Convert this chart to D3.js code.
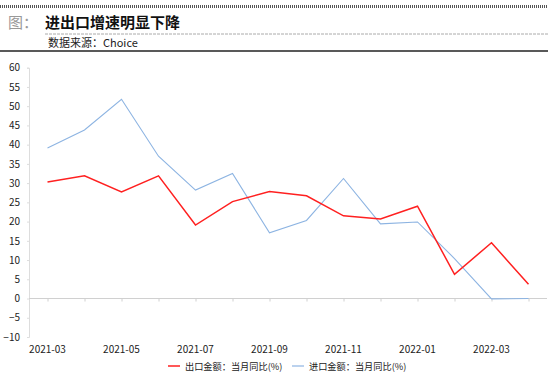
<!DOCTYPE html>
<html>
<head>
<meta charset="utf-8">
<script src="https://cdn.jsdelivr.net/npm/d3@7"></script>
<style>
  body { margin:0; background:#fff; }
  text { font-family: "Noto Sans CJK SC", "Open Sans", sans-serif; }
</style>
</head>
<body>
<div id="chart"></div>
<script>
// data
const months = ["2021-03","2021-04","2021-05","2021-06","2021-07","2021-08","2021-09",
  "2021-10","2021-11","2021-12","2022-01","2022-02","2022-03","2022-04"];
const exportYoY = [30.3, 31.9, 27.7, 31.9, 19.1, 25.2, 27.8, 26.7, 21.5, 20.7, 24.0, 6.3, 14.5, 3.7];
const importYoY = [39.1, 43.8, 51.8, 37.0, 28.2, 32.5, 17.1, 20.3, 31.2, 19.4, 19.9, 10.4, -0.1, 0.0];
const yTicks = [-10,-5,0,5,10,15,20,25,30,35,40,45,50,55,60];
const seriesNames = ["出口金额：当月同比(%)", "进口金额：当月同比(%)"];
const colors = ["#ff2020", "#8db4e2"];

const W = 550, H = 379;
const svg = d3.select('#chart').append('svg').attr('width', W).attr('height', H);

// header
svg.append('line').attr('x1',0).attr('x2',548).attr('y1',6.5).attr('y2',6.5)
  .attr('stroke','#555').attr('stroke-width',3).attr('stroke-dasharray','1,1');
svg.append('text').attr('x',8).attr('y',28).attr('fill','#999')
  .style('font-size','15px').text('图：');
svg.append('text').attr('x',45).attr('y',28).attr('fill','#111')
  .style('font-size','15px').style('font-weight','bold').text('进出口增速明显下降');
svg.append('line').attr('x1',45).attr('x2',548).attr('y1',34).attr('y2',34)
  .attr('stroke','#aaa').attr('stroke-width',1).attr('stroke-dasharray','3,1');
svg.append('text').attr('x',48).attr('y',47).attr('fill','#222')
  .style('font-size','11px').text('数据来源：Choice');
svg.append('line').attr('x1',0).attr('x2',548).attr('y1',51).attr('y2',51)
  .attr('stroke','#222').attr('stroke-width',1.5);

// scales
const x = d3.scalePoint().domain(months).range([47.5, 528.5]);
const y = d3.scaleLinear().domain([-10, 60]).range([337, 67.7]);

// y axis
const yAxis = d3.axisLeft(y).tickValues(yTicks).tickSize(2).tickPadding(7);
const gy = svg.append('g').attr('transform','translate(29,0)').call(yAxis);
gy.select('.domain').attr('stroke','#ddd');
gy.selectAll('.tick line').attr('stroke','#ddd');
gy.selectAll('.tick text').attr('fill','#222').style('font-size','10px');

// zero line axis with ticks
const xAxis = d3.axisBottom(x).tickSize(3).tickFormat('');
const gx = svg.append('g').attr('transform',`translate(0,${y(0)})`).call(xAxis);
gx.select('.domain').attr('d', `M29,0H547`).attr('stroke','#d0d0d0');
gx.selectAll('.tick line').attr('stroke','#d0d0d0');

// x labels at bottom
svg.append('g').selectAll('text')
  .data(months.filter((d,i)=> i % 2 === 0))
  .enter().append('text')
  .attr('x', d => x(d)).attr('y', 353)
  .attr('text-anchor','middle').attr('fill','#222')
  .style('font-size','10px').text(d => d);

// lines
const line = d3.line().x((d,i)=> x(months[i])).y(d => y(d));
svg.append('path').datum(importYoY).attr('d', line)
  .attr('fill','none').attr('stroke',colors[1]).attr('stroke-width',1.1);
svg.append('path').datum(exportYoY).attr('d', line)
  .attr('fill','none').attr('stroke',colors[0]).attr('stroke-width',1.5);

// legend
const legendX = [168, 292];
seriesNames.forEach((name, i) => {
  const g = svg.append('g').attr('transform', `translate(${legendX[i]},366)`);
  g.append('line').attr('x1',0).attr('x2',12).attr('y1',0).attr('y2',0)
    .attr('stroke',colors[i]).attr('stroke-width', i === 0 ? 1.5 : 1.2);
  g.append('text').attr('x',17).attr('y',3.5).attr('fill','#222')
    .style('font-size','9.2px').text(name);
});
</script>
</body>
</html>
